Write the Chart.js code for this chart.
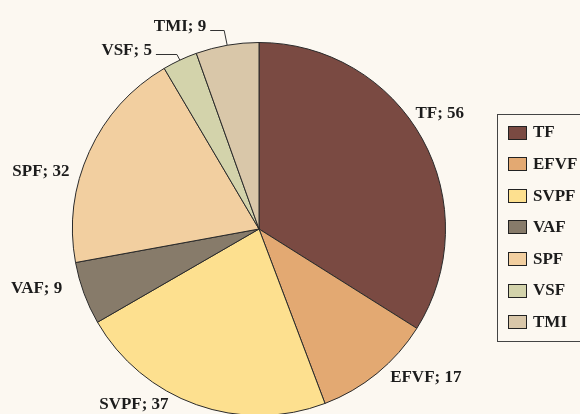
<!DOCTYPE html>
<html>
<head>
<meta charset="utf-8">
<script src="https://cdn.jsdelivr.net/npm/chart.js@4.4.0/dist/chart.umd.min.js"></script>
<style>
  html, body { margin: 0; padding: 0; background: #fcf8f1; }
  #wrap { width: 580px; height: 414px; overflow: hidden; }
</style>
</head>
<body>
<div id="wrap"><canvas id="chart" width="580" height="440"></canvas></div>
<script>
const labels = ['TF', 'EFVF', 'SVPF', 'VAF', 'SPF', 'VSF', 'TMI'];
const values = [56, 17, 37, 9, 32, 5, 9];
const colors = ['#7a4a42', '#e3a972', '#fde08f', '#877b6a', '#f2cfa0', '#d3d3ab', '#d9c7a9'];
// nudges for the data labels; for leader labels: [run, rise] of the leader line
const labelNudge = [[-7, -12], [31, -17], [-53, -26], [-21, -14], [-23, 32], [-21, -6], [-14, -15]];
const hasLeader = [false, false, false, false, false, true, true];

const font = 'bold 17px "Liberation Serif", "Times New Roman", serif';
const ink = '#1c1c1c';

const pieLabels = {
  id: 'pieLabels',
  afterDatasetsDraw(chart) {
    const ctx = chart.ctx;
    const meta = chart.getDatasetMeta(0);
    ctx.save();
    ctx.font = font;
    ctx.fillStyle = ink;
    ctx.strokeStyle = '#333';
    ctx.lineWidth = 1;
    meta.data.forEach((arc, i) => {
      const p = arc.getProps(['x', 'y', 'startAngle', 'endAngle', 'outerRadius'], true);
      const mid = (p.startAngle + p.endAngle) / 2;
      const text = labels[i] + '; ' + values[i];
      if (hasLeader[i]) {
        const ex = p.x + Math.cos(mid) * p.outerRadius;
        const ey = p.y + Math.sin(mid) * p.outerRadius;
        const ly = Math.round(ey + labelNudge[i][1]) + 0.5;
        const elbowX = ex - 3;
        const endX = elbowX + labelNudge[i][0];
        ctx.beginPath();
        ctx.moveTo(ex, ey);
        ctx.lineTo(elbowX, ly);
        ctx.lineTo(endX, ly);
        ctx.stroke();
        ctx.textAlign = 'right';
        ctx.textBaseline = 'alphabetic';
        ctx.fillText(text, endX - 4, ly);
      } else {
        const R = p.outerRadius + 28;
        const cx = p.x + Math.cos(mid) * R + labelNudge[i][0];
        const cy = p.y + Math.sin(mid) * R + labelNudge[i][1];
        ctx.textAlign = 'center';
        ctx.textBaseline = 'middle';
        ctx.fillText(text, cx, cy);
      }
    });
    ctx.restore();
  }
};

const boxLegend = {
  id: 'boxLegend',
  afterDraw(chart) {
    const ctx = chart.ctx;
    ctx.save();
    ctx.strokeStyle = '#444';
    ctx.lineWidth = 1;
    ctx.strokeRect(497.5, 114.5, 110, 227);
    ctx.font = font;
    ctx.textBaseline = 'middle';
    ctx.textAlign = 'left';
    labels.forEach((lab, i) => {
      const y = 132 + i * 31.6;
      ctx.fillStyle = colors[i];
      ctx.fillRect(508, Math.round(y - 6.5), 18, 13);
      ctx.strokeStyle = '#222';
      ctx.strokeRect(508.5, Math.round(y - 6.5) + 0.5, 18, 13);
      ctx.fillStyle = ink;
      ctx.fillText(lab, 533, y + 1);
    });
    ctx.restore();
  }
};

new Chart(document.getElementById('chart').getContext('2d'), {
  type: 'pie',
  data: {
    labels: labels,
    datasets: [{
      data: values,
      backgroundColor: colors,
      borderColor: '#2a2a2a',
      borderWidth: 1
    }]
  },
  options: {
    responsive: false,
    animation: false,
    layout: { padding: { left: 72, right: 134, top: 42, bottom: 24 } },
    plugins: {
      legend: { display: false },
      tooltip: { enabled: false }
    }
  },
  plugins: [pieLabels, boxLegend]
});
</script>
</body>
</html>
